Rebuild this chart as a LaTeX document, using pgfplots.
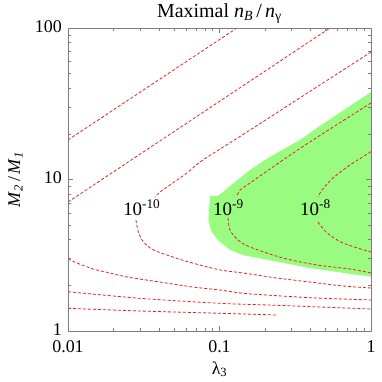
\documentclass[border=0pt]{standalone}
\usepackage{fontspec}
\setmainfont{Liberation Serif}
\usepackage{pgfplots}
\pgfplotsset{compat=1.18}
\definecolor{fillgreen}{RGB}{153,251,128}
\definecolor{axgray}{RGB}{125,125,125}
\definecolor{cred}{RGB}{238,30,30}
\begin{document}
\begin{tikzpicture}[font=\fontsize{18}{21}\selectfont]
\path[use as bounding box] (0,0) rectangle (382bp,382bp);
\begin{axis}[
  at={(68bp,51bp)}, anchor=south west,
  width=303bp, height=303bp, scale only axis,
  xmode=log, ymode=log,
  xmin=0.01, xmax=1, ymin=1, ymax=100,
  xtick={0.01,0.1,1}, xticklabels={0.01,0.1,1},
  ytick={1,10,100}, yticklabels={1,10,100},
  minor xtick={0.02,0.03,0.04,0.05,0.06,0.07,0.08,0.09,0.2,0.3,0.4,0.5,0.6,0.7,0.8,0.9},
  minor ytick={2,3,4,5,6,7,8,9,20,30,40,50,60,70,80,90},
  axis line style={axgray, line width=0.8bp},
  tick style={axgray, line width=0.6bp},
  major tick length=5bp, minor tick length=3bp,
  tick align=inside, tick pos=both,
  xticklabel pos=lower, yticklabel pos=left,
  xticklabel style={anchor=base, inner sep=0pt, yshift=-21bp},
  yticklabel style={anchor=east, inner sep=0pt, xshift=-6bp, yshift=1.5bp},
  title={Maximal \textit{n}\textsubscript{\textit{B}}\,/\,\textit{n}\textsubscript{γ}},
  title style={at={(axis description cs:0.5,1)}, anchor=base, yshift=5bp, font=\fontsize{20}{24}\selectfont},
  xlabel={λ\textsubscript{3}},
  xlabel style={at={(axis description cs:0.5,0)}, anchor=base, yshift=-43bp},
  ylabel={\textit{M}\textsubscript{\textit{2}}\,/\,\textit{M}\textsubscript{\textit{1}}},
  ylabel style={at={(axis description cs:-0.158,0.5)}, anchor=base},
  axis on top,
  every axis plot/.append style={cred, line width=0.8bp, dash pattern=on 3bp off 2bp, no marks},
]
% green region
\addplot[fill=fillgreen, draw=none, solid] coordinates {
(1,37.8) (0.440,21.9) (0.340,18.23) (0.2585,15.65) (0.1997,13.45) (0.159,11.55) (0.1366,10.23)
(0.1173,9.06) (0.1039,8.145) (0.0977,7.80) (0.0866,7.80) (0.0845,5.40) (0.0888,4.52)
(0.0985,3.95) (0.1173,3.43) (0.1429,3.17) (0.2394,2.87) (0.3958,2.60) (1,2.28)
} -- cycle;
% upper-left lines
\addplot[sharp plot] coordinates {(0.01,18.23) (0.1305,100)};
\addplot[sharp plot] coordinates {(0.01,7.10) (0.536,100)};
% 1e-10
\addplot[smooth] coordinates {(1,69.4) (0.159,21.2) (0.0778,13.45) (0.0610,11.04) (0.0471,9.20) (0.0405,8.27) (0.0375,7.66)};
\addplot[smooth] coordinates {(0.0281,5.40) (0.0291,4.52) (0.0314,3.89) (0.0366,3.43) (0.0522,3.02) (0.0671,2.80) (0.1008,2.53) (0.1429,2.415) (0.2396,2.237) (0.3958,2.105) (0.6534,1.982) (1,1.922)};
% lower lines
\addplot[smooth] coordinates {(0.01,2.99) (0.01147,2.81) (0.01462,2.566) (0.01894,2.415) (0.02452,2.272) (0.0405,2.105) (0.0668,1.951) (0.1008,1.865) (0.1429,1.774) (0.2396,1.710) (0.3958,1.659) (0.6534,1.626) (1,1.602)};
\addplot[smooth] coordinates {(0.01,1.817) (0.02986,1.644) (0.1008,1.523) (0.2396,1.478) (1,1.397)};
\addplot[smooth] coordinates {(0.01,1.412) (0.02986,1.355) (0.1008,1.309) (0.2396,1.275)};
% 1e-9
\addplot[smooth] coordinates {(1,32.0) (0.414,18.23) (0.2625,13.45) (0.159,9.48) (0.1366,8.52) (0.1299,7.70)};
\addplot[smooth] coordinates {(0.1138,5.57) (0.1173,4.64) (0.1325,3.99) (0.159,3.585) (0.2625,3.03) (0.440,2.727) (0.727,2.566) (1,2.415)};
% 1e-8
\addplot[smooth] coordinates {(1,15.26) (0.727,12.47) (0.561,10.23) (0.4748,8.52) (0.4468,7.66)};
\addplot[smooth] coordinates {(0.4468,5.24) (0.5124,4.44) (0.6534,3.81) (1,3.32)};
% labels
\node[anchor=base west, inner sep=0pt, font=\fontsize{19}{22}\selectfont] at (axis cs:0.0231,5.83) {10\textsuperscript{-10}};
\node[anchor=base west, inner sep=0pt, font=\fontsize{19}{22}\selectfont] at (axis cs:0.0906,5.83) {10\textsuperscript{-9}};
\node[anchor=base west, inner sep=0pt, font=\fontsize{19}{22}\selectfont] at (axis cs:0.340,5.83) {10\textsuperscript{-8}};
\end{axis}
\end{tikzpicture}
\end{document}
